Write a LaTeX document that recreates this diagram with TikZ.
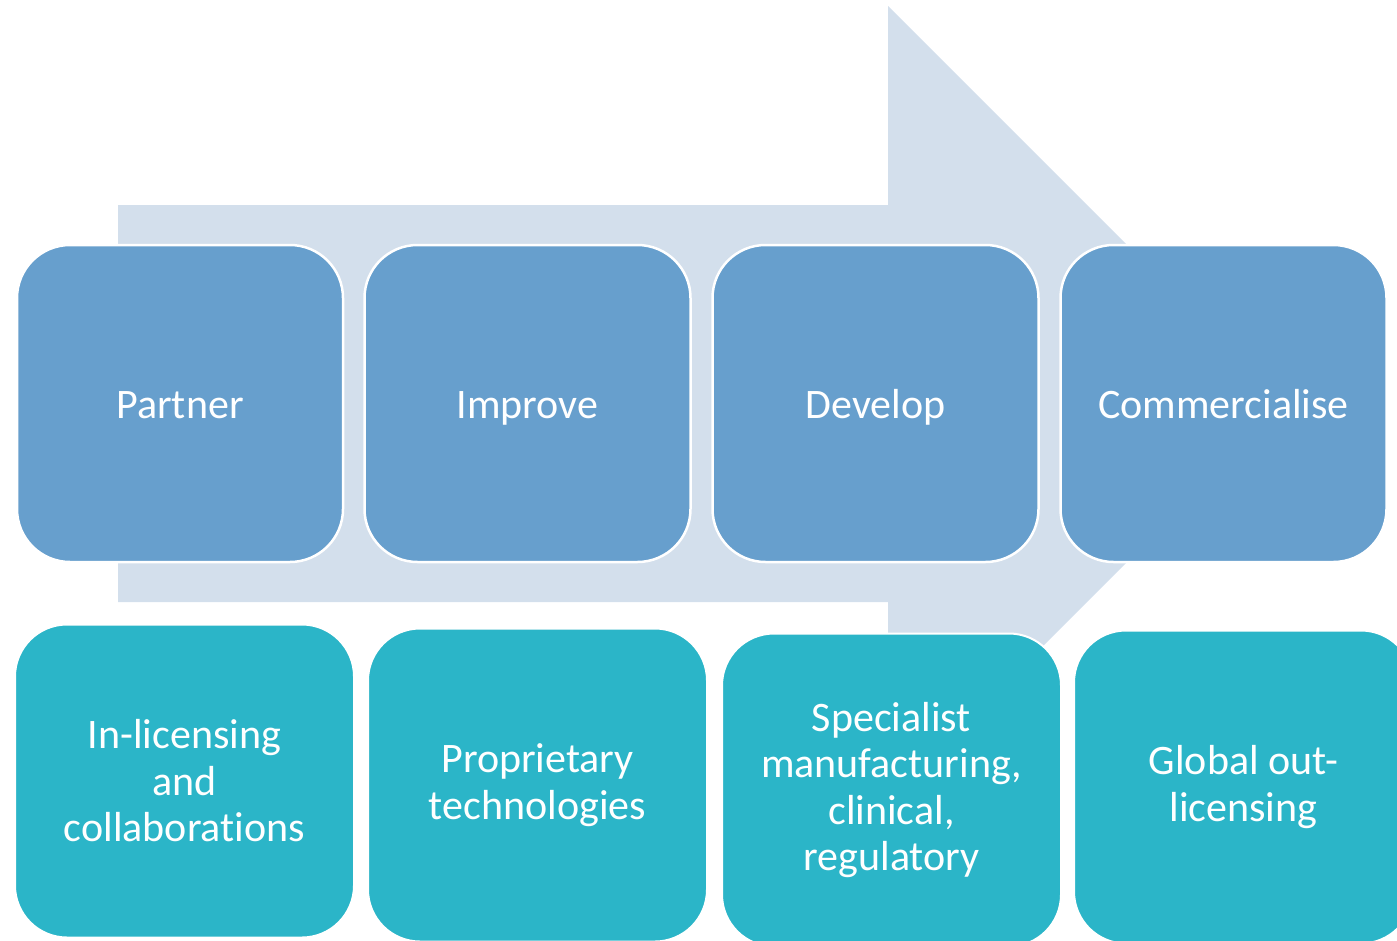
\documentclass[tikz,border=0pt]{standalone}
\usepackage{fontspec}
\setmainfont{Carlito}[Ligatures=CommonOff]
\definecolor{flowarrow}{RGB}{211, 223, 236}
\definecolor{stageblue}{RGB}{103, 159, 205}
\definecolor{detailteal}{RGB}{43, 181, 200}
\tikzset{
  stagebox/.style={rectangle, rounded corners=53pt, fill=stageblue, draw=white, line width=2.5pt,
    minimum width=326pt, minimum height=317pt, inner sep=0pt, text=white, align=center,
    text height=40pt, text depth=11pt, font=\fontsize{42}{46.5}\selectfont},
  detailbox/.style={rectangle, rounded corners=52pt, fill=detailteal, draw=white, line width=2pt,
    minimum width=339pt, minimum height=313pt, inner sep=0pt, text=white, align=center,
    font=\fontsize{42}{46.5}\selectfont}
}
\begin{document}
\begin{tikzpicture}[x=1pt, y=-1pt]
  \useasboundingbox (0,0) rectangle (1397,940);
  \clip (0,0) rectangle (1397,940);
  % big arrow behind the stages
  \fill[flowarrow] (118,205) -- (888,205) -- (888,6) -- (1285.5,403.5) -- (888,801) -- (888,602) -- (118,602) -- cycle;
  % stages
  \node[stagebox] (partner) at (180,403.5) {Partner};
  \node[stagebox] (improve) at (527.5,403.5) {Improve};
  \node[stagebox] (develop) at (875.5,403.5) {Develop};
  \node[stagebox] (commercialise) at (1223.5,403.5) {Commercialise};
  % details under each stage
  \node[detailbox] (inlicensing) at (184.5,781) {In-licensing\\and\\collaborations};
  \node[detailbox] (proprietary) at (537.5,785) {Proprietary\\technologies};
  \node[detailbox] (specialist) at (891.5,790) {Specialist\\manufacturing,\\clinical,\\regulatory};
  \node[detailbox] (outlicensing) at (1243.5,787) {Global out-\\licensing};
\end{tikzpicture}
\end{document}
